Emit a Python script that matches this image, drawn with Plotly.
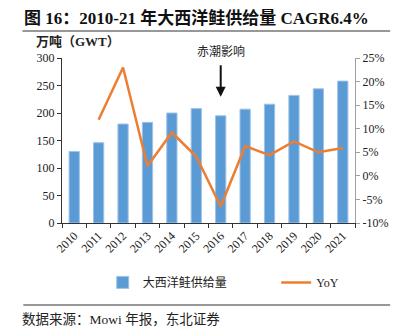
import plotly.graph_objects as go

years = ["2010", "2011", "2012", "2013", "2014", "2015", "2016", "2017", "2018", "2019", "2020", "2021"]
supply = [130, 146, 180, 183, 200, 208, 195, 207, 216, 232, 244, 258]
yoy = [None, 11.9, 23.0, 2.1, 9.2, 4.1, -6.5, 6.3, 4.4, 7.3, 5.0, 5.9]
left_ticks = [0, 50, 100, 150, 200, 250, 300]
right_ticks = [-10, -5, 0, 5, 10, 15, 20, 25]
right_labels = ["-10%", "-5%", "0%", "5%", "10%", "15%", "20%", "25%"]
event_year = "2016"

SERIF = "Liberation Serif, Noto Sans CJK SC"

fig = go.Figure()
fig.add_trace(go.Bar(x=years, y=supply, name="大西洋鲑供给量",
                     marker=dict(color="#5B9BD5", line=dict(color="#9DC3E6", width=1)),
                     width=0.42, legend="legend"))
fig.add_trace(go.Scatter(x=years, y=yoy, name="YoY", yaxis="y2", mode="lines",
                         line=dict(color="#ED7D31", width=2.5), legend="legend2"))

leg_common = dict(orientation="h", yanchor="middle", y=-0.36, xanchor="left",
                  font=dict(family=SERIF, size=12, color="#222"),
                  bgcolor="rgba(0,0,0,0)", itemwidth=30)

fig.update_layout(
    width=400, height=334,
    margin=dict(l=62, r=36, t=58, b=111),
    paper_bgcolor="white", plot_bgcolor="white",
    showlegend=True,
    legend=dict(x=0.139, **leg_common),
    legend2=dict(x=0.731, **leg_common),
    xaxis=dict(type="category", categoryorder="array", categoryarray=years,
               showline=True, linecolor="#333", linewidth=1,
               ticks="outside", tickson="boundaries", ticklen=4, tickcolor="#333",
               tickangle=-45, tickfont=dict(family=SERIF, size=12, color="#222"),
               showgrid=False),
    yaxis=dict(range=[0, 300], tickvals=left_ticks, showline=True, linecolor="#333",
               linewidth=1, ticks="outside", ticklen=4, tickcolor="#333",
               tickfont=dict(family=SERIF, size=12, color="#222"), showgrid=False,
               zeroline=False),
    yaxis2=dict(range=[-10, 25], tickvals=right_ticks, ticktext=right_labels,
                overlaying="y", side="right", showline=True, linecolor="#A0A0A0",
                linewidth=1, ticks="outside", ticklen=4, tickcolor="#A0A0A0",
                tickfont=dict(family=SERIF, size=12, color="#222"), showgrid=False,
                zeroline=False),
)

ev = years.index(event_year)
fig.add_annotation(text="<b>图 16：2010-21 年大西洋鲑供给量 CAGR6.4%</b>",
                   xref="paper", yref="paper", x=-0.135, y=1.242, xanchor="left", yanchor="middle",
                   showarrow=False, font=dict(family=SERIF, size=17, color="#111"))
fig.add_shape(type="line", xref="paper", yref="paper", x0=-0.135, x1=1.12, y0=1.1636, y1=1.1636,
              line=dict(color="#333", width=1.2))
fig.add_shape(type="line", xref="paper", yref="paper", x0=-0.132, x1=1.12, y0=-0.497, y1=-0.497,
              line=dict(color="#333", width=1.2))
fig.add_annotation(text="<b>万吨（GWT）</b>", xref="paper", yref="paper", x=-0.095, y=1.0,
                   xanchor="left", yanchor="bottom", yshift=7, showarrow=False,
                   font=dict(family=SERIF, size=13, color="#222"))
fig.add_annotation(text="赤潮影响", xref="x", yref="paper", x=ev, y=1.0,
                   xanchor="center", yanchor="bottom", yshift=-3, showarrow=False,
                   font=dict(family=SERIF, size=12, color="#222"))
fig.add_annotation(x=ev, y=0.765, xref="x", yref="paper", ax=0, ay=-33,
                   showarrow=True, arrowhead=2, arrowsize=1, arrowwidth=2,
                   arrowcolor="#111", text="")
fig.add_annotation(text="数据来源：Mowi 年报，东北证券", xref="paper", yref="paper",
                   x=-0.145, y=-0.53, xanchor="left", yanchor="top", showarrow=False,
                   font=dict(family=SERIF, size=13.5, color="#222"))

fig.write_html("out.html")
